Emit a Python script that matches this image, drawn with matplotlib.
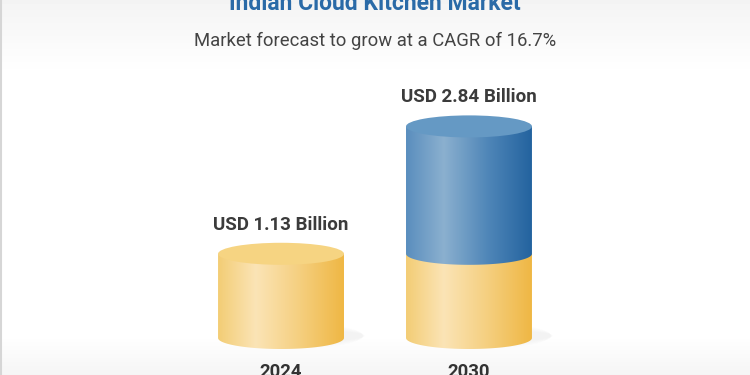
import numpy as np
import matplotlib.pyplot as plt
from matplotlib.patches import Ellipse, Polygon
from matplotlib.colors import LinearSegmentedColormap

plt.rcParams['font.family'] = ['Roboto', 'DejaVu Sans']

# Data
years = ['2024', '2030']
base_values = [1.13, 1.13]       # yellow part (2024 level)
total_values = [1.13, 2.84]      # full market size
value_labels = ['USD 1.13 Billion', 'USD 2.84 Billion']
title = 'Indian Cloud Kitchen Market'
subtitle = 'Market forecast to grow at a CAGR of 16.7%'

# Styling
yellow_cmap = LinearSegmentedColormap.from_list(
    'yel', [(0, '#f3cd75'), (0.3, '#fbe4b6'), (0.65, '#f5cf7f'), (1, '#efb744')])
blue_cmap = LinearSegmentedColormap.from_list(
    'blu', [(0, '#5a8ebe'), (0.3, '#8bb0cf'), (0.65, '#4f86b8'), (1, '#23639f')])
yellow_top = '#f6d482'
blue_top = '#6599c4'
bar_w = 0.67
ell_h = 0.296

fig = plt.figure(figsize=(7.5, 3.75), dpi=100)

# background with soft gray bands top and bottom
bg = fig.add_axes([0, 0, 1, 1], zorder=0)
rows = np.linspace(0, 1, 375)
shade = np.ones_like(rows)
top = rows < 75 / 375
shade[top] = 0.955 + 0.045 * (rows[top] / (75 / 375))
bot = rows > 335 / 375
shade[bot] = 1 - 0.04 * ((rows[bot] - 335 / 375) / (40 / 375))
img = np.repeat(shade[:, None], 10, axis=1)
bg.imshow(img, cmap='gray', vmin=0, vmax=1, aspect='auto', extent=[0, 1, 1, 0])
bg.axvline(0.001, color='#d6d6d6', lw=1.5)
bg.set_xlim(0, 1)
bg.set_ylim(1, 0)
bg.axis('off')

ax = fig.add_axes([0, 0, 1, 1], zorder=1)
ax.patch.set_alpha(0)
ax.set_xlim(-1.495, 2.495)
ax.set_ylim(-0.497, 4.537)
ax.axis('off')


def cyl_body(ax, xc, y0, y1, cmap, z):
    t = np.linspace(np.pi, 2 * np.pi, 60)
    bottom = np.column_stack([xc + bar_w / 2 * np.cos(t), y0 + ell_h / 2 * np.sin(t)])
    pts = np.vstack([bottom, [[xc + bar_w / 2, y1], [xc - bar_w / 2, y1]]])
    poly = Polygon(pts, closed=True, facecolor='none', edgecolor='none', zorder=z)
    ax.add_patch(poly)
    grad = np.linspace(0, 1, 256)[None, :]
    im = ax.imshow(grad, cmap=cmap, aspect='auto', zorder=z,
                   extent=[xc - bar_w / 2, xc + bar_w / 2, y0 - ell_h, y1 + ell_h])
    im.set_clip_path(poly)


for i, yr in enumerate(years):
    # soft shadow
    for k in range(4):
        ax.add_patch(Ellipse((i + 0.1 + 0.03 * k, 0.03), bar_w * (1.0 - 0.08 * k),
                             ell_h * (1.1 - 0.2 * k), color='#a0a0a0', alpha=0.025,
                             lw=0, zorder=2))
    cyl_body(ax, i, 0, base_values[i], yellow_cmap, 3)
    if total_values[i] > base_values[i]:
        cyl_body(ax, i, base_values[i], total_values[i], blue_cmap, 4)
        ax.add_patch(Ellipse((i, total_values[i]), bar_w, ell_h,
                             facecolor=blue_top, edgecolor='none', zorder=5))
    else:
        ax.add_patch(Ellipse((i, total_values[i]), bar_w, ell_h,
                             facecolor=yellow_top, edgecolor='none', zorder=5))
    ax.text(i, total_values[i] + 0.39, value_labels[i], ha='center', va='center',
            fontsize=13.5, fontweight='bold', color='#3b3b3b', zorder=6)
    ax.text(i, -0.33, yr, ha='center', va='top', fontsize=13.3,
            fontweight='bold', color='#333333', zorder=6)

fig.text(0.5, 1 - 3 / 375, title, ha='center', va='center', fontsize=16.5,
         fontweight='bold', color='#2a6aa7')
fig.text(0.5, 1 - 41 / 375, subtitle, ha='center', va='center', fontsize=13.3,
         color='#444444')

fig.savefig('out.png', dpi=100)
